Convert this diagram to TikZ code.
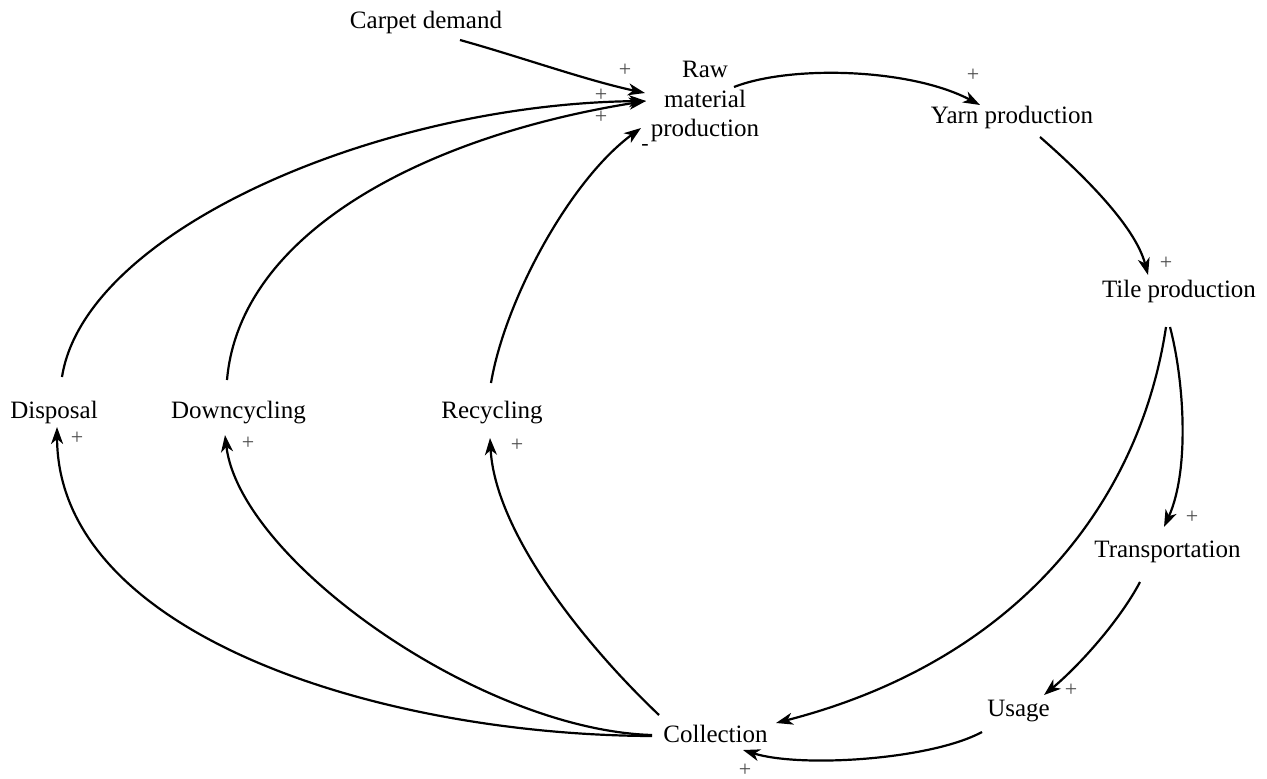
\documentclass[tikz,border=0pt]{standalone}
\usepackage{fontspec}
\setmainfont{Liberation Serif}
\usetikzlibrary{arrows.meta,calc}
\begin{document}
\begin{tikzpicture}[x=1pt,y=-1pt,
  lbl/.style={font=\fontsize{25}{29.5}\selectfont, inner sep=0pt, outer sep=0pt},
  pol/.style={font=\fontsize{22}{22}\selectfont, text=black!70, inner sep=0pt},
  link/.style={line width=2.2pt, -{Stealth[length=17pt,width=12pt,inset=5pt]}},
]
\useasboundingbox (0,0) rectangle (1267,779);

% variables of the carpet tile loop
\node[lbl,anchor=base] (carpet) at (426,28) {Carpet demand};
\node[lbl,anchor=north,align=center] (raw) at (705,61.5) {Raw\\material\\production};
\node[lbl,anchor=base] (yarn) at (1012,123) {Yarn production};
\node[lbl,anchor=base] (tile) at (1179,297) {Tile production};
\node[lbl,anchor=base] (trans) at (1167.5,557) {Transportation};
\node[lbl,anchor=base] (usage) at (1018.5,716) {Usage};
\node[lbl,anchor=base] (coll) at (715.5,742) {Collection};
\node[lbl,anchor=base] (disp) at (54,418) {Disposal};
\node[lbl,anchor=base] (down) at (238.5,418) {Downcycling};
\node[lbl,anchor=base] (recyc) at (492,418) {Recycling};

% main chain
\draw[link] ($(carpet.base)+(34,12)$) .. controls (521,57) and (585,80) .. ($(raw.north)+(-60,31.5)$);
\draw[link] ($(raw.north)+(29,25.5)$) .. controls (790,65) and (910,68) .. ($(yarn.base)+(-32,-18)$);
\draw[link] ($(yarn.base)+(28,14)$) .. controls (1080,172) and (1135,225) .. ($(tile.base)+(-31,-22)$);
\draw[link] ($(tile.base)+(-9,30)$) .. controls (1184,380) and (1190,470) .. ($(trans.base)+(-3.5,-30)$);
\draw[link] ($(tile.base)+(-13,30)$) .. controls (1140,500) and (1020,660) .. ($(coll.base)+(60.5,-19)$);
\draw[link] ($(trans.base)+(-27.5,25)$) .. controls (1120,620) and (1080,665) .. ($(usage.base)+(25.5,-21)$);
\draw[link] ($(usage.base)+(-36.5,16)$) .. controls (930,760) and (800,768) .. ($(coll.base)+(27.5,8)$);

% end-of-life routes
\draw[link] ($(coll.base)+(-63.5,-6)$) .. controls (380,735) and (58,635) .. ($(disp.base)+(3,9)$);
\draw[link] ($(coll.base)+(-63.5,-7)$) .. controls (480,730) and (240,560) .. ($(down.base)+(-13.5,17)$);
\draw[link] ($(coll.base)+(-56.5,-27)$) .. controls (580,640) and (495,530) .. ($(recyc.base)+(-2,20)$);

% feedback into raw material production
\draw[link] ($(disp.base)+(8,-41)$) .. controls (85,230) and (380,104) .. ($(raw.north)+(-59,39.5)$);
\draw[link] ($(down.base)+(-11.5,-38)$) .. controls (240,230) and (430,135) .. ($(raw.north)+(-59,39.5)$);
\draw[link] ($(recyc.base)+(-1,-35)$) .. controls (505,300) and (570,180) .. ($(raw.north)+(-64,66.5)$);

% link polarities
\node[pol] (pCarpet) at (625,70) {+};
\node[pol] (pDisp) at (601,95) {+};
\node[pol] (pDown) at (601,117) {+};
\node[pol,text=black] (pRecyc) at (645,147) {-};
\node[pol] (pYarn) at (973,75) {+};
\node[pol] (pTile) at (1166,263) {+};
\node[pol] (pTrans) at (1192,517) {+};
\node[pol] (pUsage) at (1071,690) {+};
\node[pol] (pColl) at (745,770) {+};
\node[pol] (pDispIn) at (77,438) {+};
\node[pol] (pDownIn) at (248,443) {+};
\node[pol] (pRecycIn) at (517,445) {+};
\end{tikzpicture}
\end{document}
